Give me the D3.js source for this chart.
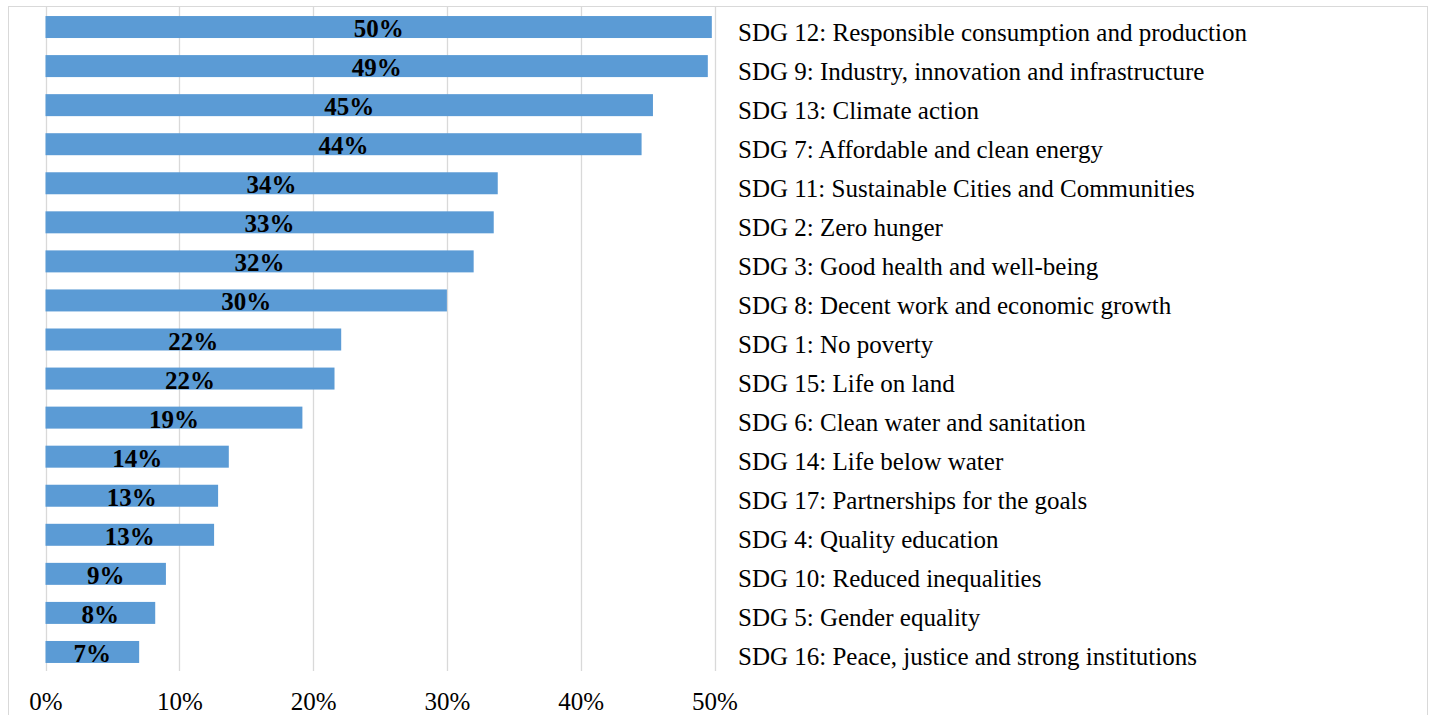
<!DOCTYPE html>
<html>
<head>
<meta charset="utf-8">
<script src="https://cdn.jsdelivr.net/npm/d3@7"></script>
<style>
  html, body { margin: 0; padding: 0; background: #fff; }
  svg { display: block; }
</style>
</head>
<body>
<svg id="chart" width="1430" height="715"></svg>
<script>
const categories = [
  "SDG 12: Responsible consumption and production",
  "SDG 9: Industry, innovation and infrastructure",
  "SDG 13: Climate action",
  "SDG 7: Affordable and clean energy",
  "SDG 11: Sustainable Cities and Communities",
  "SDG 2: Zero hunger",
  "SDG 3: Good health and well-being",
  "SDG 8: Decent work and economic growth",
  "SDG 1: No poverty",
  "SDG 15: Life on land",
  "SDG 6: Clean water and sanitation",
  "SDG 14: Life below water",
  "SDG 17: Partnerships for the goals",
  "SDG 4: Quality education",
  "SDG 10: Reduced inequalities",
  "SDG 5: Gender equality",
  "SDG 16: Peace, justice and strong institutions"
];
const values = [0.498, 0.495, 0.454, 0.4455, 0.338, 0.335, 0.320, 0.300, 0.221, 0.216, 0.192, 0.137, 0.129, 0.126, 0.090, 0.082, 0.070];
const valueLabels = ["50%","49%","45%","44%","34%","33%","32%","30%","22%","22%","19%","14%","13%","13%","9%","8%","7%"];
const tickValues = [0, 0.1, 0.2, 0.3, 0.4, 0.5];

const svg = d3.select("#chart");
const serif = "'Liberation Serif', 'Times New Roman', serif";

// outer frame
svg.append("rect")
  .attr("x", 8.5).attr("y", 6.5)
  .attr("width", 1419).attr("height", 720)
  .attr("fill", "none").attr("stroke", "#d9d9d9").attr("stroke-width", 1);

const x = d3.scaleLinear().domain([0, 0.5]).range([45.5, 714.5]);
const y = d3.scaleBand().domain(categories).range([7.5, 671.5]).paddingInner(0.437).paddingOuter(0.2185);

// gridlines
svg.append("g").selectAll("line").data(tickValues).join("line")
  .attr("x1", d => Math.round(x(d)) + 0.5).attr("x2", d => Math.round(x(d)) + 0.5)
  .attr("y1", 7).attr("y2", 671)
  .attr("stroke", "#d9d9d9").attr("stroke-width", 1.3);

// bars
svg.append("g").selectAll("rect").data(values).join("rect")
  .attr("x", x(0))
  .attr("y", (d, i) => y(categories[i]))
  .attr("width", d => x(d) - x(0))
  .attr("height", y.bandwidth())
  .attr("fill", "#5b9bd5");

// value labels
svg.append("g").selectAll("text").data(values).join("text")
  .attr("x", d => (x(0) + x(d)) / 2)
  .attr("y", (d, i) => y(categories[i]) + y.bandwidth() / 2)
  .attr("dy", "0.40em")
  .attr("text-anchor", "middle")
  .attr("font-family", serif)
  .attr("font-weight", "bold")
  .attr("font-size", 25)
  .attr("fill", "#000")
  .text((d, i) => valueLabels[i]);

// category labels
svg.append("g").selectAll("text").data(categories).join("text")
  .attr("x", 738)
  .attr("y", d => y(d) + y.bandwidth() / 2)
  .attr("dy", "0.54em")
  .attr("font-family", serif)
  .attr("font-size", 25)
  .attr("fill", "#000")
  .text(d => d);

// x axis
const axis = d3.axisBottom(x).tickValues(tickValues).tickFormat(d3.format(".0%")).tickSize(0).tickPadding(0);
const ax = svg.append("g").attr("transform", "translate(0,710)").call(axis);
ax.select(".domain").remove();
ax.selectAll("text")
  .attr("y", 0)
  .attr("dy", 0)
  .attr("font-family", serif)
  .attr("font-size", 25)
  .attr("fill", "#000");
</script>
</body>
</html>
